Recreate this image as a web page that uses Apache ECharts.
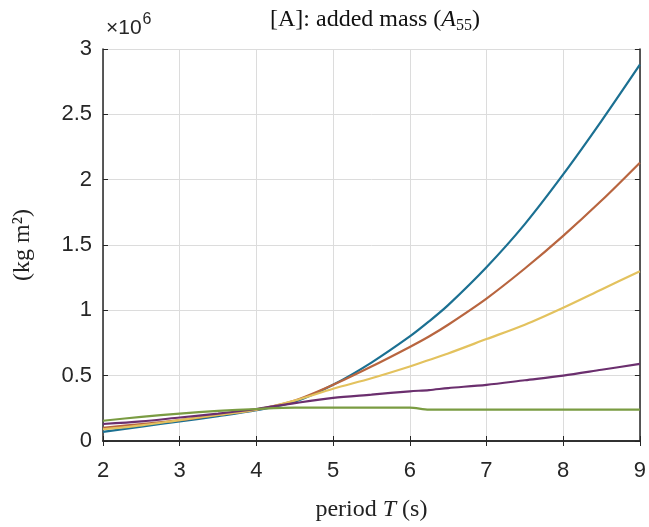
<!DOCTYPE html>
<html>
<head>
<meta charset="utf-8">
<script src="https://cdn.jsdelivr.net/npm/echarts@6/dist/echarts.min.js"></script>
<style>html,body{margin:0;padding:0;background:#fff;}#c{width:649px;height:527px;}</style>
</head>
<body>
<div id="c"></div>
<script>
// period T (s)
const periods = [2, 2.5, 3, 3.5, 4, 4.5, 5, 5.5, 6, 6.25, 6.5, 7, 7.5, 8, 8.5, 9];
// added mass A55, in units of 1e6 kg m^2
const seriesBlue   = [0.07, 0.11, 0.15, 0.19, 0.235, 0.30, 0.43, 0.60, 0.80, 0.915, 1.04, 1.33, 1.66, 2.04, 2.45, 2.88];
const seriesOrange = [0.10, 0.13, 0.16, 0.20, 0.24, 0.31, 0.43, 0.57, 0.72, 0.80, 0.89, 1.09, 1.32, 1.57, 1.84, 2.13];
const seriesYellow = [0.09, 0.12, 0.16, 0.20, 0.24, 0.31, 0.40, 0.48, 0.57, 0.62, 0.67, 0.78, 0.89, 1.02, 1.16, 1.30];
const seriesPurple = [0.13, 0.15, 0.18, 0.21, 0.245, 0.29, 0.33, 0.355, 0.38, 0.39, 0.405, 0.43, 0.465, 0.50, 0.545, 0.59];
const seriesGreen  = [0.155, 0.185, 0.21, 0.23, 0.245, 0.255, 0.255, 0.255, 0.255, 0.24, 0.24, 0.24, 0.24, 0.24, 0.24, 0.24];
const xTicks = [2, 3, 4, 5, 6, 7, 8, 9];
const yTicks = [0, 0.5, 1, 1.5, 2, 2.5, 3];

const allSeries = [
  {name: 'blue', data: seriesBlue, color: '#1b7092'},
  {name: 'orange', data: seriesOrange, color: '#b8653f'},
  {name: 'yellow', data: seriesYellow, color: '#e3c25e'},
  {name: 'purple', data: seriesPurple, color: '#6b2f6e'},
  {name: 'green', data: seriesGreen, color: '#7a9c42'}
];

const chart = echarts.init(document.getElementById('c'));
const axisColor = '#262626';
const sans = 'Liberation Sans';
const serif = 'Liberation Serif';

chart.setOption({
  animation: false,
  backgroundColor: '#ffffff',
  title: {
    text: '{r|[A]: added mass (}{i|A}{s|55}{r|)}',
    left: 370, top: 0, textAlign: 'center',
    textStyle: {
      fontWeight: 'normal',
      rich: {
        r: {fontFamily: serif, fontSize: 24, fontWeight: 'normal', color: '#111'},
        i: {fontFamily: serif, fontSize: 24, fontStyle: 'italic', fontWeight: 'normal', color: '#111'},
        s: {fontFamily: serif, fontSize: 16, fontWeight: 'normal', color: '#111', padding: [13, 0, 0, 0]}
      }
    }
  },
  grid: {left: 103, right: 7, top: 49, bottom: 82, containLabel: false},
  graphic: [{
    type: 'text', left: 106, top: 12,
    style: {
      text: '{a|×10}{b|6}',
      rich: {
        a: {fontFamily: sans, fontSize: 21, fill: axisColor, padding: [9, 0, 0, 0]},
        b: {fontFamily: sans, fontSize: 16, fill: axisColor, padding: [0, 0, 8, 1]}
      }
    }
  }],
  xAxis: [{
    type: 'value', min: 2, max: 9, interval: 1,
    name: '{r|period }{i|T}{r| (s)}', nameLocation: 'middle', nameGap: 57,
    nameTextStyle: {rich: {
      r: {fontFamily: serif, fontSize: 24, color: '#222'},
      i: {fontFamily: serif, fontSize: 24, fontStyle: 'italic', color: '#222'}
    }},
    axisLine: {show: true, lineStyle: {color: axisColor, width: 1.5}},
    axisTick: {show: true, inside: true, length: 5, lineStyle: {color: axisColor}},
    axisLabel: {fontFamily: sans, fontSize: 22, color: axisColor, margin: 19,
      formatter: v => xTicks.includes(v) ? String(v) : ''},
    splitLine: {show: true, lineStyle: {color: '#dcdcdc', width: 1}}
  }, {
    type: 'value', min: 2, max: 9, interval: 1, position: 'top',
    axisLine: {show: true, lineStyle: {color: axisColor, width: 1.5}},
    axisTick: {show: true, inside: true, length: 5, lineStyle: {color: axisColor}},
    axisLabel: {show: false}, splitLine: {show: false}
  }],
  yAxis: [{
    type: 'value', min: 0, max: 3, interval: 0.5,
    name: '(kg m²)', nameLocation: 'middle', nameGap: 68, nameRotate: 90,
    nameTextStyle: {fontFamily: serif, fontSize: 24, color: '#222'},
    axisLine: {show: true, lineStyle: {color: axisColor, width: 1.5}},
    axisTick: {show: true, inside: true, length: 5, lineStyle: {color: axisColor}},
    axisLabel: {fontFamily: sans, fontSize: 22, color: axisColor, margin: 11,
      formatter: v => yTicks.includes(v) ? String(v) : ''},
    splitLine: {show: true, lineStyle: {color: '#dcdcdc', width: 1}}
  }, {
    type: 'value', min: 0, max: 3, interval: 0.5, position: 'right',
    axisLine: {show: true, lineStyle: {color: axisColor, width: 1.5}},
    axisTick: {show: true, inside: true, length: 5, lineStyle: {color: axisColor}},
    axisLabel: {show: false}, splitLine: {show: false}
  }],
  series: allSeries.map(s => ({
    name: s.name, type: 'line', xAxisIndex: 0, yAxisIndex: 0,
    data: periods.map((t, i) => [t, s.data[i]]),
    showSymbol: false, smooth: 0.3,
    lineStyle: {color: s.color, width: 2.2},
    itemStyle: {color: s.color}
  }))
});
</script>
</body>
</html>
